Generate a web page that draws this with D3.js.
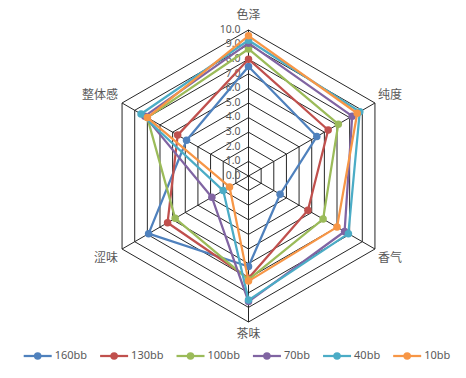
<!DOCTYPE html>
<html>
<head>
<meta charset="utf-8">
<script src="https://cdn.jsdelivr.net/npm/d3@7"></script>
<style>
  body { margin: 0; background: #fff; }
  text { font-family: "Noto Sans CJK SC", "Noto Sans", sans-serif; fill: #595959; }
  .num { font-family: "Noto Sans", "DejaVu Sans", sans-serif; }
</style>
</head>
<body>
<div id="chart"></div>
<script>
const axes = ["色泽", "纯度", "香气", "茶味", "涩味", "整体感"];
const seriesNames = ["160bb", "130bb", "100bb", "70bb", "40bb", "10bb"];
const v160 = [7.5, 5.4, 2.5, 6.2, 7.9, 4.9];
const v130 = [8.0, 6.3, 4.7, 7.0, 6.4, 5.6];
const v100 = [8.7, 7.1, 5.9, 7.1, 5.8, 8.0];
const v70 = [9.1, 8.2, 7.6, 8.6, 2.9, 8.2];
const v40 = [9.3, 8.8, 7.9, 8.5, 2.0, 8.5];
const v10 = [9.6, 8.6, 7.0, 7.2, 1.5, 8.0];
const ticks = [0, 1, 2, 3, 4, 5, 6, 7, 8, 9, 10];

const seriesValues = [v160, v130, v100, v70, v40, v10];
const colors = ["#4F81BD", "#C0504D", "#9BBB59", "#8064A2", "#4BACC6", "#F79646"];

const width = 466, height = 378;
const cx = 248.5, cy = 176, R = 146;

const svg = d3.select("#chart").append("svg")
  .attr("width", width).attr("height", height);

const r = d3.scaleLinear().domain([0, 10]).range([0, R]);
const angle = d3.scalePoint().domain(d3.range(axes.length + 1)).range([0, 2 * Math.PI]);
const pt = (i, v) => {
  const a = angle(i) - Math.PI / 2;
  return [cx + r(v) * Math.cos(a), cy + r(v) * Math.sin(a)];
};

const g = svg.append("g");

// rings
ticks.slice(1).forEach(t => {
  g.append("polygon")
    .attr("points", axes.map((_, i) => pt(i, t).join(",")).join(" "))
    .attr("fill", "none")
    .attr("stroke", "#262626")
    .attr("stroke-width", 1);
});

// spokes
axes.forEach((_, i) => {
  const [x, y] = pt(i, 10);
  g.append("line")
    .attr("x1", cx).attr("y1", cy).attr("x2", x).attr("y2", y)
    .attr("stroke", "#262626").attr("stroke-width", 1);
});

// tick labels
g.selectAll(".tick")
  .data(ticks)
  .join("text")
  .attr("class", "num")
  .attr("x", cx - 8)
  .attr("y", d => cy - r(d))
  .attr("text-anchor", "end")
  .attr("dominant-baseline", "middle")
  .style("font-size", "10.5px")
  .text(d => d3.format(".1f")(d));

// axis labels
axes.forEach((name, i) => {
  const [x, y] = pt(i, 10);
  const a = angle(i) - Math.PI / 2;
  const c = Math.cos(a), s = Math.sin(a);
  let tx = x, ty = y, anchor = "middle";
  if (Math.abs(c) < 0.01) {
    ty = y + (s < 0 ? -14 : 13);
  } else {
    anchor = c > 0 ? "start" : "end";
    tx = x + (c > 0 ? 3 : -4);
    ty = y + (s < 0 ? -7 : 10);
  }
  g.append("text")
    .attr("x", tx).attr("y", ty)
    .attr("text-anchor", anchor)
    .attr("dominant-baseline", "middle")
    .style("font-size", "12px")
    .text(name);
});

// series
const line = d3.line().curve(d3.curveLinearClosed);
seriesValues.forEach((vals, k) => {
  const pts = vals.map((v, i) => pt(i, v));
  g.append("path")
    .attr("d", line(pts))
    .attr("fill", "none")
    .attr("stroke", colors[k])
    .attr("stroke-width", 2.25)
    .attr("stroke-linejoin", "round");
  g.selectAll(null)
    .data(pts)
    .join("circle")
    .attr("cx", d => d[0]).attr("cy", d => d[1])
    .attr("r", 3.75)
    .attr("fill", colors[k]);
});

// legend
const legend = svg.append("g");
const ly = 356;
let lx = 0;
seriesNames.forEach((name, k) => {
  const item = legend.append("g").attr("transform", `translate(${lx},0)`);
  item.append("line")
    .attr("x1", 0).attr("x2", 28).attr("y1", ly).attr("y2", ly)
    .attr("stroke", colors[k]).attr("stroke-width", 2.25);
  item.append("circle").attr("cx", 14).attr("cy", ly).attr("r", 3.75).attr("fill", colors[k]);
  const t = item.append("text")
    .attr("class", "num")
    .attr("x", 31).attr("y", ly)
    .attr("dominant-baseline", "middle")
    .style("font-size", "11px")
    .text(name);
  lx += 31 + t.node().getComputedTextLength() + 13;
});
const lw = lx - 13;
legend.attr("transform", `translate(${(237 - lw / 2).toFixed(1)},0)`);
</script>
</body>
</html>
